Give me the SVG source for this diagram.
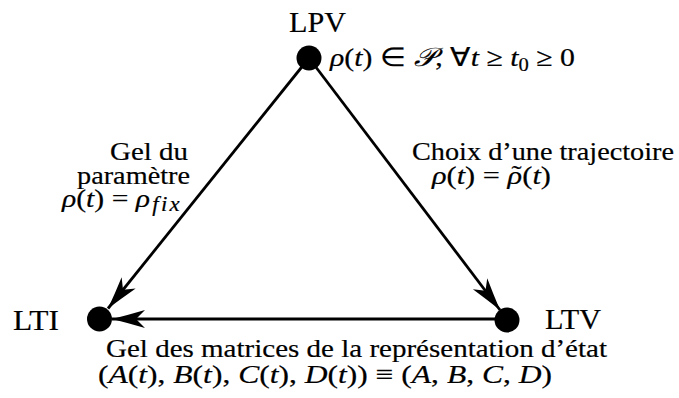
<svg xmlns="http://www.w3.org/2000/svg" width="679" height="398" viewBox="0 0 679 398">
<style>
text{font-family:"Liberation Serif","Times New Roman",serif;font-size:26px;fill:#000;stroke:#000;stroke-width:0.2}
.n{font-size:30px}
.i{font-style:italic}
.s{font-size:18px}
.edge{stroke:#000;stroke-width:2.8;fill:none}
.dot{fill:#000}
</style>
<defs>
<marker id="ah" markerUnits="userSpaceOnUse" markerWidth="40" markerHeight="24" refX="0" refY="0" viewBox="-36 -12 38 24" orient="auto">
<path d="M0,0 Q-16,-4 -33,-9 L-24,0 L-33,9 Q-16,4 0,0 Z" fill="#000"/>
</marker>
</defs>
<rect width="679" height="398" fill="#fff"/>
<g id="connectors">
<line class="edge" x1="309" y1="58" x2="108" y2="308.5" marker-end="url(#ah)"/>
<line class="edge" x1="309" y1="58" x2="500" y2="310" marker-end="url(#ah)"/>
<line class="edge" x1="507" y1="319" x2="112" y2="319" marker-end="url(#ah)"/>
</g>
<g id="LPV">
<circle class="dot" cx="309" cy="58" r="12.5"/>
<text class="n" x="289" y="32" textLength="57" lengthAdjust="spacingAndGlyphs">LPV</text>
<text x="330" y="66" textLength="245" lengthAdjust="spacingAndGlyphs"><tspan class="i">ρ</tspan>(<tspan class="i">t</tspan>) ∈ <tspan class="i">𝒫</tspan>, ∀<tspan class="i">t</tspan> ≥ <tspan class="i">t</tspan><tspan class="s" dy="5">0</tspan><tspan dy="-5"> ≥ 0</tspan></text>
</g>
<g id="LTI">
<circle class="dot" cx="99.5" cy="319" r="12.5"/>
<text class="n" x="13" y="330" textLength="46" lengthAdjust="spacingAndGlyphs">LTI</text>
</g>
<g id="LTV">
<circle class="dot" cx="507" cy="320" r="12.5"/>
<text class="n" x="545" y="329" textLength="56" lengthAdjust="spacingAndGlyphs">LTV</text>
</g>
<g id="label-left">
<text x="110" y="160" textLength="78" lengthAdjust="spacingAndGlyphs">Gel du</text>
<text x="77" y="184" textLength="113" lengthAdjust="spacingAndGlyphs">paramètre</text>
<text x="62" y="207" textLength="120" lengthAdjust="spacingAndGlyphs"><tspan class="i">ρ</tspan>(<tspan class="i">t</tspan>) = <tspan class="i">ρ</tspan><tspan class="i" font-size="20" dx="2" dy="4" letter-spacing="2">fix</tspan></text>
</g>
<g id="label-right">
<text x="412" y="160" textLength="262" lengthAdjust="spacingAndGlyphs">Choix d’une trajectoire</text>
<text x="432" y="184" textLength="119" lengthAdjust="spacingAndGlyphs"><tspan class="i">ρ</tspan>(<tspan class="i">t</tspan>) = <tspan class="i">ρ</tspan><tspan dx="-9" dy="-1">˜</tspan><tspan dx="0.5" dy="1">(</tspan><tspan class="i">t</tspan>)</text>
</g>
<g id="label-bottom">
<text x="106" y="357" textLength="501" lengthAdjust="spacingAndGlyphs">Gel des matrices de la représentation d’état</text>
<text x="98" y="383" textLength="454" lengthAdjust="spacingAndGlyphs">(<tspan class="i">A</tspan>(<tspan class="i">t</tspan>), <tspan class="i">B</tspan>(<tspan class="i">t</tspan>), <tspan class="i">C</tspan>(<tspan class="i">t</tspan>), <tspan class="i">D</tspan>(<tspan class="i">t</tspan>)) ≡ (<tspan class="i">A</tspan>, <tspan class="i">B</tspan>, <tspan class="i">C</tspan>, <tspan class="i">D</tspan>)</text>
</g>
</svg>
